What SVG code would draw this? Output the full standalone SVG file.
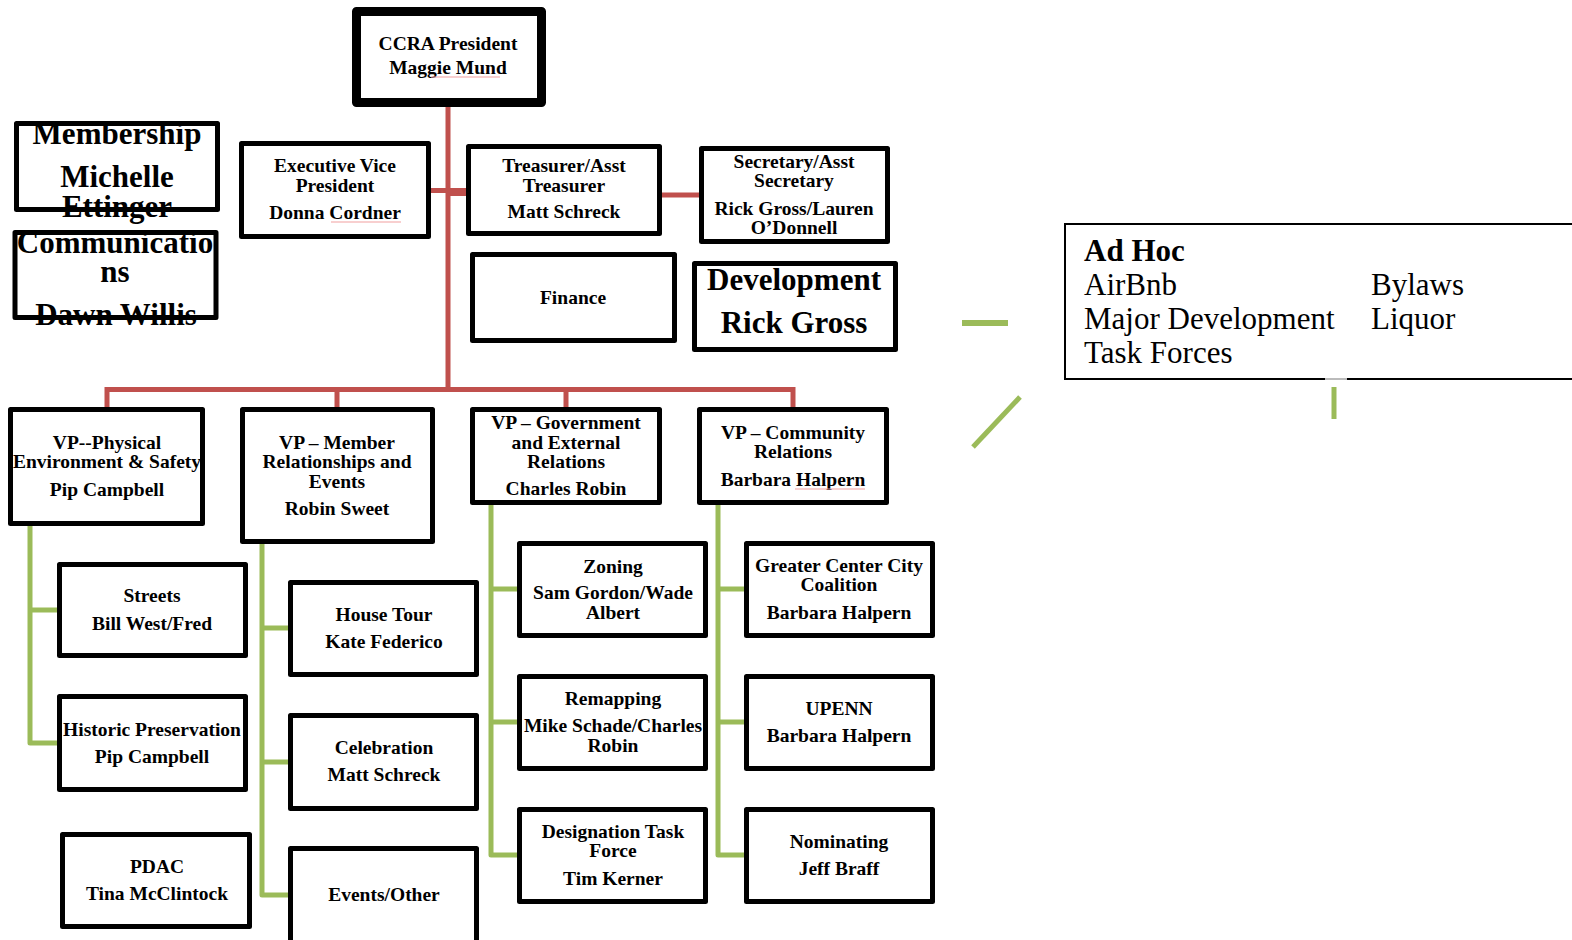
<svg xmlns="http://www.w3.org/2000/svg" width="1572" height="940" viewBox="0 0 1572 940">
<style>
.box{fill:#fff;stroke:#000;stroke-width:5;stroke-linejoin:round}
.t{font-family:"Liberation Serif","Times New Roman",serif;font-weight:bold;font-size:19.5px;fill:#000;text-anchor:middle}
.big{font-size:31px}
.red{fill:none;stroke:#C0504D;stroke-width:5}
.grn{fill:none;stroke:#9BBB59;stroke-width:5;stroke-linejoin:round}
.adhoc{font-family:"Liberation Serif","Times New Roman",serif;font-size:31px;fill:#000}
.sq{stroke:#F2A0A0;stroke-width:1.2;fill:none}
</style>
<rect width="1572" height="940" fill="#fff"/>
<g id="connectors">
<path class="red" d="M448 107V389.5"/>
<path class="red" d="M107 408V389.5H793V408M337 389.5V408M566 389.5V408"/>
<path class="red" d="M431 190.5H449"/>
<path class="red" style="stroke-width:8" d="M449 192H467"/>
<path class="red" d="M661 195H700"/>
<path class="grn" d="M30 525V743H58M30 610H58"/>
<path class="grn" d="M262 543V895H289M262 628H289M262 762H289"/>
<path class="grn" d="M491 504V855H518M491 589H518M491 722H518"/>
<path class="grn" d="M718 504V855H745M718 589H745M718 722H745"/>
<path class="grn" style="stroke-width:6" d="M962 323H1008"/>
<path class="grn" d="M1020 397L973 447"/>
<path class="grn" d="M1334 387V419"/>
</g>
<g id="president">
<rect x="356.5" y="11.5" width="185" height="91" style="fill:#fff;stroke:#000;stroke-width:9;stroke-linejoin:round"/>
<text class="t" x="448" y="50">CCRA President</text>
<text class="t" x="448" y="74">Maggie Mund</text>
<path class="sq" d="M431 77H500"/>
</g>
<g id="membership">
<rect class="box" x="16.5" y="123.5" width="201" height="86"/>
<text class="t big" x="117" y="144">Membership</text>
<text class="t big" x="117" y="187">Michelle</text>
<text class="t big" x="117" y="217">Ettinger</text>
</g>
<g id="communications">
<rect class="box" x="15" y="232.5" width="201" height="85"/>
<text class="t big" x="115" y="253">Communicatio</text>
<text class="t big" x="115" y="282">ns</text>
<text class="t big" x="116" y="325">Dawn Willis</text>
</g>
<g id="evp">
<rect class="box" x="241.5" y="143.5" width="187" height="93"/>
<text class="t" x="335" y="172">Executive Vice</text>
<text class="t" x="335" y="192">President</text>
<text class="t" x="335" y="219">Donna Cordner</text>
<path class="sq" d="M331 222H401"/>
</g>
<g id="treasurer">
<rect class="box" x="468.5" y="146.5" width="191" height="87"/>
<text class="t" x="564" y="172">Treasurer/Asst</text>
<text class="t" x="564" y="192">Treasurer</text>
<text class="t" x="564" y="218">Matt Schreck</text>
</g>
<g id="secretary">
<rect class="box" x="701.5" y="148.5" width="186" height="93"/>
<text class="t" x="794" y="168">Secretary/Asst</text>
<text class="t" x="794" y="187">Secretary</text>
<text class="t" x="794" y="215">Rick Gross/Lauren</text>
<text class="t" x="794" y="234">O’Donnell</text>
</g>
<g id="finance">
<rect class="box" x="472.5" y="254.5" width="202" height="86"/>
<text class="t" x="573" y="304">Finance</text>
</g>
<g id="development">
<rect class="box" x="694.5" y="263.5" width="201" height="86"/>
<text class="t big" x="794" y="290">Development</text>
<text class="t big" x="794" y="333">Rick Gross</text>
</g>
<g id="vp-physical">
<rect class="box" x="10.5" y="409.5" width="192" height="114"/>
<text class="t" x="107" y="449">VP--Physical</text>
<text class="t" x="107" y="468">Environment &amp; Safety</text>
<text class="t" x="107" y="496">Pip Campbell</text>
</g>
<g id="vp-member">
<rect class="box" x="242.5" y="409.5" width="190" height="132"/>
<text class="t" x="337" y="449">VP – Member</text>
<text class="t" x="337" y="468">Relationships and</text>
<text class="t" x="337" y="488">Events</text>
<text class="t" x="337" y="515">Robin Sweet</text>
</g>
<g id="vp-government">
<rect class="box" x="472.5" y="409.5" width="187" height="93"/>
<text class="t" x="566" y="429">VP – Government</text>
<text class="t" x="566" y="449">and External</text>
<text class="t" x="566" y="468">Relations</text>
<text class="t" x="566" y="495">Charles Robin</text>
</g>
<g id="vp-community">
<rect class="box" x="699.5" y="409.5" width="187" height="93"/>
<text class="t" x="793" y="439">VP – Community</text>
<text class="t" x="793" y="458">Relations</text>
<text class="t" x="793" y="486">Barbara Halpern</text>
<path class="sq" d="M795 489H865"/>
</g>
<g id="streets">
<rect class="box" x="59.5" y="564.5" width="186" height="91"/>
<text class="t" x="152" y="602">Streets</text>
<text class="t" x="152" y="630">Bill West/Fred</text>
</g>
<g id="historic">
<rect class="box" x="59.5" y="696.5" width="186" height="93"/>
<text class="t" x="152" y="736">Historic Preservation</text>
<text class="t" x="152" y="763">Pip Campbell</text>
</g>
<g id="pdac">
<rect class="box" x="62.5" y="834.5" width="187" height="92"/>
<text class="t" x="157" y="873">PDAC</text>
<text class="t" x="157" y="900">Tina McClintock</text>
</g>
<g id="house-tour">
<rect class="box" x="290.5" y="582.5" width="186" height="92"/>
<text class="t" x="384" y="621">House Tour</text>
<text class="t" x="384" y="648">Kate Federico</text>
</g>
<g id="celebration">
<rect class="box" x="290.5" y="715.5" width="186" height="93"/>
<text class="t" x="384" y="754">Celebration</text>
<text class="t" x="384" y="781">Matt Schreck</text>
</g>
<g id="events-other">
<rect class="box" x="290.5" y="848.5" width="186" height="100"/>
<text class="t" x="384" y="901">Events/Other</text>
</g>
<g id="zoning">
<rect class="box" x="519.5" y="543.5" width="186" height="92"/>
<text class="t" x="613" y="573">Zoning</text>
<text class="t" x="613" y="599">Sam Gordon/Wade</text>
<text class="t" x="613" y="619">Albert</text>
</g>
<g id="remapping">
<rect class="box" x="519.5" y="676.5" width="186" height="92"/>
<text class="t" x="613" y="705">Remapping</text>
<text class="t" x="613" y="732">Mike Schade/Charles</text>
<text class="t" x="613" y="752">Robin</text>
</g>
<g id="designation">
<rect class="box" x="519.5" y="809.5" width="186" height="92"/>
<text class="t" x="613" y="838">Designation Task</text>
<text class="t" x="613" y="857">Force</text>
<text class="t" x="613" y="885">Tim Kerner</text>
</g>
<g id="gcc">
<rect class="box" x="746.5" y="543.5" width="186" height="92"/>
<text class="t" x="839" y="572">Greater Center City</text>
<text class="t" x="839" y="591">Coalition</text>
<text class="t" x="839" y="619">Barbara Halpern</text>
</g>
<g id="upenn">
<rect class="box" x="746.5" y="676.5" width="186" height="92"/>
<text class="t" x="839" y="715">UPENN</text>
<text class="t" x="839" y="742">Barbara Halpern</text>
</g>
<g id="nominating">
<rect class="box" x="746.5" y="809.5" width="186" height="92"/>
<text class="t" x="839" y="848">Nominating</text>
<text class="t" x="839" y="875">Jeff Braff</text>
</g>
<g id="ad-hoc">
<rect x="1065" y="224" width="530" height="155" fill="#fff" stroke="#000" stroke-width="2"/>
<path d="M1325 379H1347" stroke="#bbb" stroke-width="2"/>
<text class="adhoc" x="1084" y="261" font-weight="bold" font-size="29">Ad Hoc</text>
<text class="adhoc" x="1084" y="295">AirBnb</text>
<text class="adhoc" x="1084" y="329">Major Development</text>
<text class="adhoc" x="1084" y="363">Task Forces</text>
<text class="adhoc" x="1371" y="295">Bylaws</text>
<text class="adhoc" x="1371" y="329">Liquor</text>
</g>
</svg>
